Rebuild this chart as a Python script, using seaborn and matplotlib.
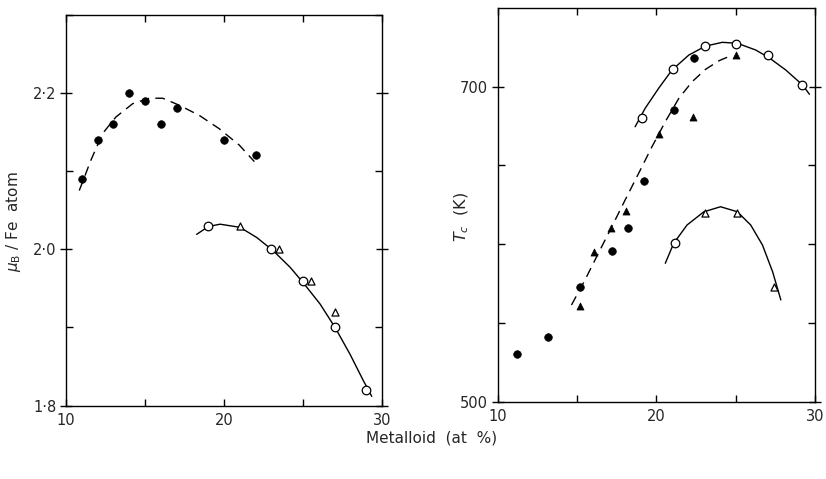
import matplotlib
matplotlib.use("Agg")
import matplotlib.pyplot as plt
from matplotlib.ticker import FixedLocator, FuncFormatter
import seaborn as sns

# ---- left panel: mean moment per Fe atom ----
mom_dot_x = [11, 12, 13, 14, 15, 16, 17, 20, 22]
mom_dot_y = [2.09, 2.14, 2.16, 2.20, 2.19, 2.16, 2.18, 2.14, 2.12]
mom_ring_x = [19, 23, 25, 27, 29]
mom_ring_y = [2.03, 2.00, 1.96, 1.90, 1.82]
mom_tri_x = [21, 23.5, 25.5, 27]
mom_tri_y = [2.03, 2.00, 1.96, 1.92]

# hand-drawn guide curves
mom_dash_x = [10.84, 11.58, 12.32, 13.16, 14.22, 15.27, 16.12, 17.17, 18.44, 19.70, 20.97, 21.92]
mom_dash_y = [2.075, 2.114, 2.148, 2.169, 2.186, 2.193, 2.193, 2.184, 2.171, 2.154, 2.133, 2.112]
mom_solid_x = [18.27, 19.01, 19.75, 21.01, 22.07, 23.12, 24.18, 25.02, 26.08, 27.03, 27.97, 28.82, 29.35]
mom_solid_y = [2.019, 2.029, 2.032, 2.028, 2.015, 1.998, 1.977, 1.957, 1.930, 1.900, 1.866, 1.832, 1.812]

# ---- right panel: Curie temperature ----
tc_dot_x = [11.2, 13.2, 15.2, 17.2, 18.2, 19.2, 21.1, 22.4]
tc_dot_y = [530, 541, 573, 596, 610, 640, 685, 718]
tc_tri_x = [15.2, 16.1, 17.15, 18.1, 20.15, 22.3, 25.0]
tc_tri_y = [561, 595, 610, 621, 670, 681, 720]
tc_ring_x = [19.1, 21.05, 23.1, 25.05, 27.05, 29.2, 21.15]
tc_ring_y = [680, 711, 726, 727, 720, 701, 601]
tc_otri_x = [23.1, 25.1, 27.4]
tc_otri_y = [620, 620, 573]

tc_upper_x = [18.67, 19.30, 20.15, 20.99, 22.05, 23.10, 24.16, 25.11, 26.27, 27.11, 28.16, 29.22, 29.65]
tc_upper_y = [674.6, 686.3, 699.0, 710.6, 720.1, 725.8, 728.2, 727.6, 723.3, 718.4, 710.6, 701.1, 695.2]
tc_dash_x = [14.66, 15.51, 16.35, 17.20, 18.04, 18.89, 19.73, 20.57, 21.42, 22.26, 23.10, 23.95, 24.79]
tc_dash_y = [561.4, 577.3, 594.2, 611.1, 628.1, 645.0, 661.9, 677.8, 692.6, 703.2, 711.0, 716.5, 720.1]
tc_lower_x = [20.57, 21.10, 21.94, 23.0, 24.05, 25.11, 25.95, 26.69, 27.33, 27.85]
tc_lower_y = [587.9, 600.6, 612.2, 620.6, 623.8, 620.6, 612.2, 599.5, 582.5, 564.6]

x_major = [10, 20, 30]
x_minor = [15, 25]
mom_major = [1.8, 2.0, 2.2]
mom_minor = [1.9, 2.1, 2.3]
tc_major = [500, 700]
tc_minor = [550, 600, 650]

sns.set_style("ticks")
plt.rcParams["font.family"] = ["DejaVu Sans"]
plt.rcParams["mathtext.fontset"] = "dejavusans"

fig = plt.figure(figsize=(8.26, 4.79), dpi=100)
W, H = 826, 479


def rect(x0, y0, x1, y1):
    return [x0 / W, 1 - y1 / H, (x1 - x0) / W, (y1 - y0) / H]


ax1 = fig.add_axes(rect(66, 14.5, 382, 405.7))
ax2 = fig.add_axes(rect(497.5, 8, 815, 401.7))

line_kw = dict(sort=False, estimator=None, color="black", linewidth=1.0, legend=False)
dash = (0, (7, 4.5))


def dots(ax, x, y, marker, filled, s):
    if filled:
        sns.scatterplot(x=x, y=y, ax=ax, marker=marker, s=s, color="black",
                        edgecolor="black", linewidth=0.5, zorder=3, legend=False)
    else:
        sns.scatterplot(x=x, y=y, ax=ax, marker=marker, s=s, color="white",
                        edgecolor="black", linewidth=0.9, zorder=3, legend=False)


# left panel
sns.lineplot(x=mom_dash_x, y=mom_dash_y, ax=ax1, linestyle=dash, **line_kw)
sns.lineplot(x=mom_solid_x, y=mom_solid_y, ax=ax1, **line_kw)
dots(ax1, mom_dot_x, mom_dot_y, "o", True, 30)
dots(ax1, mom_ring_x, mom_ring_y, "o", False, 38)
dots(ax1, mom_tri_x, mom_tri_y, "^", False, 26)

# right panel
sns.lineplot(x=tc_dash_x, y=tc_dash_y, ax=ax2, linestyle=dash, **line_kw)
sns.lineplot(x=tc_upper_x, y=tc_upper_y, ax=ax2, **line_kw)
sns.lineplot(x=tc_lower_x, y=tc_lower_y, ax=ax2, **line_kw)
dots(ax2, tc_dot_x, tc_dot_y, "o", True, 30)
dots(ax2, tc_tri_x, tc_tri_y, "^", True, 26)
dots(ax2, tc_ring_x, tc_ring_y, "o", False, 38)
dots(ax2, tc_otri_x, tc_otri_y, "^", False, 26)

ax1.set_xlim(10, 30)
ax1.set_ylim(1.8, 2.3)
ax2.set_xlim(10, 30)
ax2.set_ylim(500, 750)

dot_fmt = FuncFormatter(lambda v, p: f"{v:.1f}".replace(".", "\u00b7"))

for ax, ymaj, ymin in ((ax1, mom_major, mom_minor), (ax2, tc_major, tc_minor)):
    ax.xaxis.set_major_locator(FixedLocator(x_major))
    ax.xaxis.set_minor_locator(FixedLocator(x_minor))
    ax.yaxis.set_major_locator(FixedLocator(ymaj))
    ax.yaxis.set_minor_locator(FixedLocator(ymin))
    ax.tick_params(which="both", direction="in", top=True, right=True,
                   width=1.0, color="black", labelsize=10.5)
    ax.tick_params(which="major", length=5)
    ax.tick_params(which="minor", length=5)
    ax.tick_params(axis="y", which="major", direction="inout", length=8, pad=3)
    ax.tick_params(axis="x", which="major", pad=5)
    for sp in ax.spines.values():
        sp.set_visible(True)
        sp.set_linewidth(1.0)
        sp.set_color("black")
    ax.set_xlabel("")

ax1.yaxis.set_major_formatter(dot_fmt)

ax1.set_ylabel(r"$\mu_{\mathrm{B}}$ / Fe  atom", fontsize=11)
ax1.yaxis.set_label_coords(-0.135, 0.47)
ax2.set_ylabel(r"$T_{c}$  (K)", fontsize=11.5)
ax2.yaxis.set_label_coords(-0.085, 0.47)

fig.text(432 / W, 1 - 438 / H, "Metalloid  (at  %)", ha="center", va="center", fontsize=11)

fig.savefig("out.png", dpi=100)
